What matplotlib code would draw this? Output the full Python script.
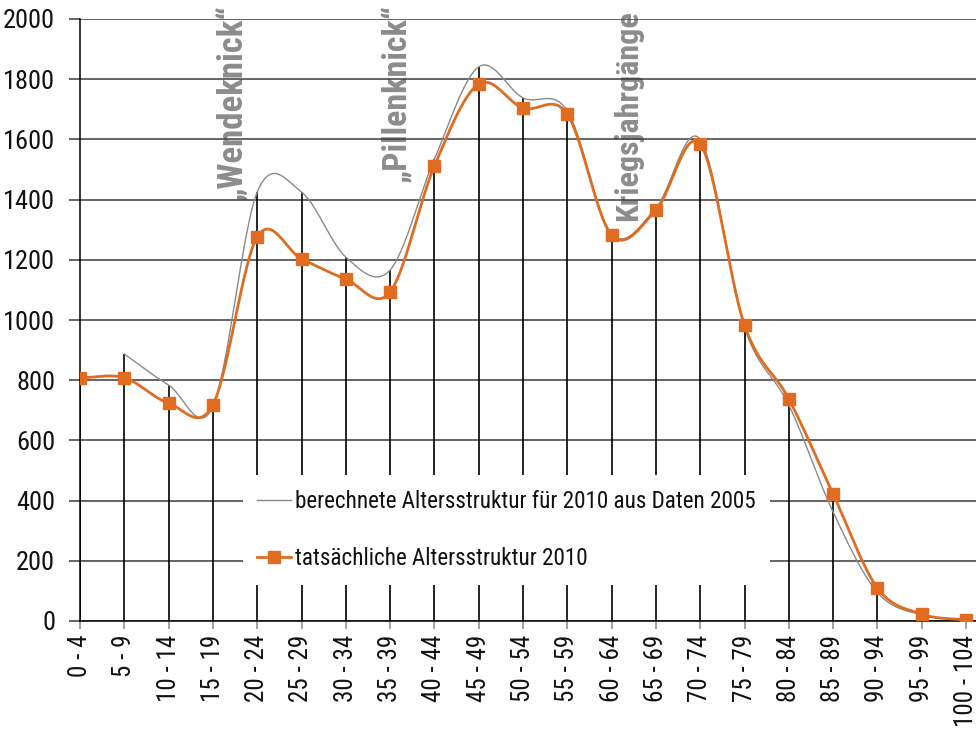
import numpy as np
import matplotlib
matplotlib.use("Agg")
import matplotlib.pyplot as plt
from matplotlib.patches import Rectangle
from matplotlib.lines import Line2D

categories = ["0 - 4", "5 - 9", "10 - 14", "15 - 19", "20 - 24", "25 - 29", "30 - 34",
              "35 - 39", "40 - 44", "45 - 49", "50 - 54", "55 - 59", "60 - 64", "65 - 69",
              "70 - 74", "75 - 79", "80 - 84", "85 - 89", "90 - 94", "95 - 99", "100 - 104"]
berechnet = [np.nan, 887, 784, 712, 1425, 1425, 1209, 1166, 1535, 1841, 1738, 1695,
             1286, 1372, 1600, 975, 718, 362, 95, 20, 3]
tatsaechlich = [808, 808, 724, 718, 1276, 1203, 1136, 1093, 1512, 1784, 1704, 1684,
                1282, 1365, 1585, 983, 738, 422, 110, 23, 3]
label_ber = "berechnete Altersstruktur für 2010 aus Daten 2005"
label_tat = "tatsächliche Altersstruktur 2010"
annotations = [("\u201eWendeknick\u201c", 3.43, 2050, 25), ("\u201ePillenknick\u201c", 7.16, 2050, 24.5),
               ("Kriegsjahrgänge", 12.37, 2030, 23)]

FONT = ["Roboto Condensed", "PT Sans Narrow", "Archivo Narrow", "Asap Condensed", "DejaVu Sans"]
plt.rcParams['font.family'] = FONT

def smooth(xs, ys, n=30):
    xs = np.asarray(xs, float); ys = np.asarray(ys, float)
    m = ~np.isnan(ys)
    xs, ys = xs[m], ys[m]
    k = len(xs)
    t = np.zeros(k)
    for i in range(k):
        if i == 0:
            t[i] = (ys[1] - ys[0])
        elif i == k - 1:
            t[i] = (ys[-1] - ys[-2])
        else:
            t[i] = (ys[i + 1] - ys[i - 1]) / 2
    ox, oy = [], []
    for i in range(k - 1):
        s = np.linspace(0, 1, n, endpoint=(i == k - 2))
        h00 = 2*s**3 - 3*s**2 + 1
        h10 = s**3 - 2*s**2 + s
        h01 = -2*s**3 + 3*s**2
        h11 = s**3 - s**2
        dx = xs[i + 1] - xs[i]
        oy.extend(h00*ys[i] + h10*dx*t[i] + h01*ys[i + 1] + h11*dx*t[i + 1])
        ox.extend(xs[i] + s*dx)
    return np.array(ox), np.array(oy)

fig = plt.figure(figsize=(9.76, 7.29), dpi=100)
ax = fig.add_axes([80/976, 108/729, 896/976, 602/729])
x = np.arange(len(categories))

ax.set_xlim(0, 896/44.3)
ax.set_ylim(0, 2000)
ax.set_yticks(np.arange(0, 2001, 200))
ax.yaxis.grid(True, color='#3a3a3a', lw=1.1, zorder=1)
ax.set_axisbelow(True)

for nm, xc, yc, fs in annotations:
    ax.text(xc, yc, nm, rotation=90, ha='center', va='top', color='#8c8c8c',
            fontsize=fs, fontweight='bold', zorder=0.5)

tops = np.nanmax(np.vstack([np.array(berechnet, float), np.array(tatsaechlich, float)]), axis=0)
ax.vlines(x, 0, tops, color='black', lw=1.2, zorder=2)

bx, by = smooth(x, berechnet)
ax.plot(bx, by, color='#8a8a8a', lw=1.0, zorder=3)
tx, ty = smooth(x, tatsaechlich)
ax.plot(tx, ty, color='#E06C22', lw=2.0, zorder=4)
ax.plot(x, tatsaechlich, ls='none', marker='s', ms=8, color='#E06C22', zorder=5)

ax.set_xticks(x)
ax.set_xticklabels(categories, rotation=90, fontsize=18, color='#111111')
ax.tick_params(axis='x', length=6, color='#909090', width=1.2, pad=4)
ax.tick_params(axis='y', length=8, color='#3a3a3a', width=1.1, labelsize=19, pad=10,
               labelcolor='#111111')
for s in ['top', 'right']:
    ax.spines[s].set_visible(False)
ax.spines['left'].set_color('black')
ax.spines['left'].set_linewidth(1.1)
ax.spines['bottom'].set_color('black')
ax.spines['bottom'].set_linewidth(1.1)

# white legend area
rect = Rectangle(((243-80)/896, (621-585)/602), (770-243)/896, 110/602,
                 transform=ax.transAxes, facecolor='white', edgecolor='none', zorder=6)
ax.add_patch(rect)
handles = [Line2D([], [], color='#8a8a8a', lw=1.0),
           Line2D([], [], color='#E06C22', lw=2.0, marker='s', ms=8)]
leg = ax.legend(handles, [label_ber, label_tat], loc='upper left',
                bbox_to_anchor=(257/976, 1 - 490/729), bbox_transform=fig.transFigure,
                frameon=False, fontsize=16.7, handlelength=1.45, handletextpad=0.2,
                labelspacing=1.45, borderpad=0, borderaxespad=0)
for t in leg.get_texts():
    t.set_color('#111111')
leg.set_zorder(7)

fig.savefig("out.png", dpi=100)
